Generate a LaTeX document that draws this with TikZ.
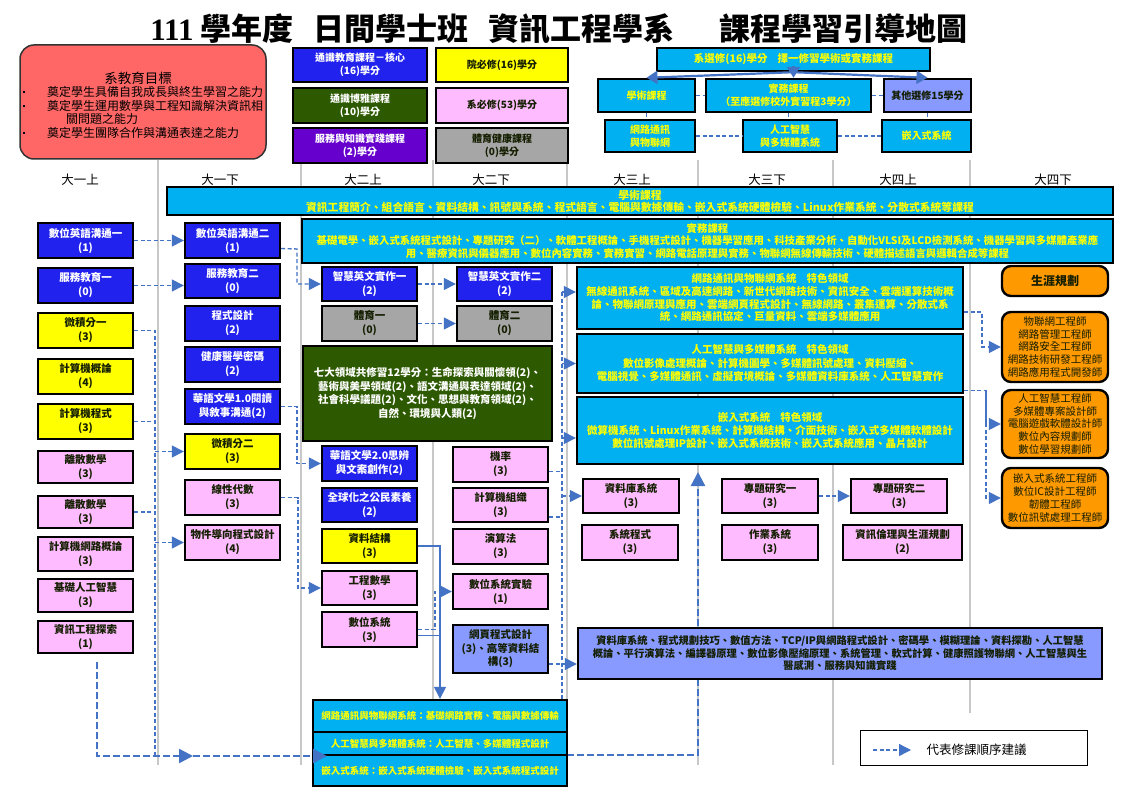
\documentclass[tikz,border=0pt]{standalone}
\usepackage{fontspec}
\setmainfont{Noto Sans CJK TC}
\newfontfamily\serifnum{Liberation Serif}
\usetikzlibrary{arrows.meta}
\definecolor{cblue}{RGB}{34,34,238}
\definecolor{cyel}{RGB}{255,255,0}
\definecolor{cpink}{RGB}{255,187,255}
\definecolor{cgray}{RGB}{166,166,166}
\definecolor{cgreen}{RGB}{45,90,0}
\definecolor{cpurp}{RGB}{102,0,204}
\definecolor{ccyan}{RGB}{0,176,240}
\definecolor{cperi}{RGB}{136,153,255}
\definecolor{cred}{RGB}{255,102,102}
\definecolor{corange}{RGB}{255,153,0}
\definecolor{carrow}{RGB}{68,114,196}
\definecolor{cline}{RGB}{200,200,200}
\definecolor{ctxt}{RGB}{20,30,0}
\newcommand\fsz[2]{\fontsize{#1}{#2}\selectfont}
\newcommand\bx[7]{\node[#6, minimum width={#4pt-#2pt}, minimum height={#5pt-#3pt}] (#1) at ({(#2+#4)/2},{(#3+#5)/2}) {#7};}
\tikzset{
  base/.style={draw=black, line width=2.4pt, align=center, inner sep=0pt, font=\fsz{10.5}{14}\bfseries},
  bluebox/.style={base, fill=cblue, text=white},
  yelbox/.style={base, fill=cyel, text=ctxt},
  pinkbox/.style={base, fill=cpink, text=ctxt},
  graybox/.style={base, fill=cgray, text=ctxt},
  greenbox/.style={base, fill=cgreen, text=white},
  purpbox/.style={base, fill=cpurp, text=white},
  cyanbox/.style={base, fill=ccyan, text=cyel},
  peribox/.style={base, fill=cperi, text=ctxt},
  orgbox/.style={base, fill=corange, text=ctxt, rounded corners=9pt},
  hdr/.style={font=\fsz{12.5}{14}, text=black},
  dashln/.style={draw=carrow, line width=1.4pt, dash pattern=on 4pt off 2.5pt},
  dasharr/.style={dashln, -{Triangle[length=12pt,width=12pt]}},
  thickdash/.style={draw=carrow, line width=2.4pt, dash pattern=on 7pt off 3pt},
  thickarr/.style={thickdash, -{Triangle[length=14pt,width=14pt]}},
  solidln/.style={draw=carrow, line width=1.3pt},
  solidarr/.style={solidln, -{Triangle[length=12pt,width=12pt]}},
  bigarr/.style={draw=carrow, line width=2.2pt, -{Triangle[length=11pt,width=13pt]}},
  colline/.style={draw=cline, line width=1.2pt},
}
\begin{document}
\begin{tikzpicture}[x=1pt,y=-1pt]
\useasboundingbox (0,0) rectangle (1123,794);
\fill[white] (0,0) rectangle (1123,794);

% title
\node[font=\fsz{31}{34}\bfseries] (title) at (559,29) {{\serifnum 111} 學年度\hspace{20pt}日間學士班\hspace{20pt}資訊工程學系\hspace{45pt}課程學習引導地圖};

% column lines
\foreach \x in {158,301,433,567,698,833} \draw[colline] (\x,160) -- (\x,765);
\draw[colline] (970,160) -- (970,713);

% headers
\node[hdr] (h1) at (80,180) {大一上};
\node[hdr] (h2) at (220,180) {大一下};
\node[hdr] (h3) at (363,180) {大二上};
\node[hdr] (h4) at (491,180) {大二下};
\node[hdr] (h5) at (632,180) {大三上};
\node[hdr] (h6) at (767,180) {大三下};
\node[hdr] (h7) at (898,180) {大四上};
\node[hdr] (h8) at (1053,180) {大四下};

% goals
\node[draw=black!80, line width=1.5pt, fill=cred, rounded corners=14pt, minimum width=246pt, minimum height=114pt, inner sep=0pt] (goal) at (143,102) {};
\node[font=\fsz{13.5}{15}] (goalt) at (138,78) {系教育目標};
\node[fill=black, inner sep=0pt, minimum size=2.5pt] (gb1) at (24,92) {};
\node[fill=black, inner sep=0pt, minimum size=2.5pt] (gb2) at (24,106) {};
\node[fill=black, inner sep=0pt, minimum size=2.5pt] (gb3) at (24,133) {};
\node[anchor=west, font=\fsz{12}{13}, inner sep=0pt] (g1) at (47,92) {奠定學生具備自我成長與終生學習之能力};
\node[anchor=west, font=\fsz{12}{13}, inner sep=0pt] (g2) at (47,106) {奠定學生運用數學與工程知識解決資訊相};
\node[anchor=west, font=\fsz{12}{13}, inner sep=0pt] (g2b) at (66,119) {關問題之能力};
\node[anchor=west, font=\fsz{12}{13}, inner sep=0pt] (g3) at (47,133) {奠定學生團隊合作與溝通表達之能力};

% legend boxes
\bx{lg1}{293}{48}{427}{82}{bluebox, font=\fsz{10}{13}\bfseries}{通識教育課程－核心\\(16)學分}
\bx{lg2}{293}{88}{427}{123}{greenbox, font=\fsz{10}{13}\bfseries}{通識博雅課程\\(10)學分}
\bx{lg3}{293}{128}{427}{163}{purpbox, font=\fsz{10}{13}\bfseries}{服務與知識實踐課程\\(2)學分}
\bx{lg4}{436}{48}{568}{82}{yelbox, font=\fsz{10}{13}\bfseries}{院必修(16)學分}
\bx{lg5}{436}{88}{568}{123}{pinkbox, font=\fsz{10}{13}\bfseries}{系必修(53)學分}
\bx{lg6}{436}{128}{568}{163}{graybox, font=\fsz{10}{13}\bfseries}{體育健康課程\\(0)學分}

% elective structure
\bx{sel}{657}{48}{930}{71}{cyanbox, font=\fsz{10.5}{13}\bfseries}{系選修(16)學分\hspace{10pt}擇一修習學術或實務課程}
\bx{aca}{598}{79}{695}{112}{cyanbox, font=\fsz{10}{13}\bfseries}{學術課程}
\bx{pra}{706}{79}{871}{112}{cyanbox, font=\fsz{10}{13}\bfseries}{實務課程\\（至應選修校外實習程3學分）}
\bx{oth}{884}{79}{971}{112}{peribox, font=\fsz{10}{13}\bfseries}{其他選修15學分}
\bx{trk1}{605}{120}{695}{152}{cyanbox, font=\fsz{10}{13}\bfseries}{網路通訊\\與物聯網}
\bx{trk2}{743}{120}{837}{152}{cyanbox, font=\fsz{10}{13}\bfseries}{人工智慧\\與多媒體系統}
\bx{trk3}{882}{120}{971}{152}{cyanbox, font=\fsz{10}{13}\bfseries}{嵌入式系統}
\draw[dashln] (aca.east) -- (pra.west);
\draw[dashln] (pra.east) -- (oth.west);
\draw[dashln] (trk1.east) -- (trk2.west);
\draw[dashln] (trk2.east) -- (trk3.west);
\draw[dashln] (aca.south) -- (aca.south |- trk1.north);
\draw[dashln] (pra.south) -- (pra.south |- trk2.north);
\draw[dashln] (oth.south) -- (oth.south |- trk3.north);
\coordinate (selc) at (793.5,66);
\draw[bigarr] (sel.south) -- (aca.north);
\draw[bigarr] (sel.south) -- (oth.north);
\draw[bigarr] (selc) -- (selc |- pra.north);

% long lines behind boxes
\coordinate (rA) at (567,755);
\coordinate (rB) at (698,755);
\coordinate (rT) at (698,472);
\draw[thickarr] (rA) -- (rB) -- (rT);

% big course boxes
\bx{acad}{167}{187}{1113}{215}{cyanbox, font=\fsz{10.8}{12}\bfseries}{學術課程\\資訊工程簡介、組合語言、資料結構、訊號與系統、程式語言、電腦與數據傳輸、嵌入式系統硬體檢驗、Linux作業系統、分散式系統等課程}
\bx{prac}{302}{219}{1113}{263}{cyanbox, font=\fsz{10.4}{12.5}\bfseries}{實務課程\\基礎電學、嵌入式系統程式設計、專題研究（二）、軟體工程概論、手機程式設計、機器學習應用、科技產業分析、自動化VLSI及LCD檢測系統、機器學習與多媒體產業應\\用、醫療資訊與儀器應用、數位內容實務、實務實習、網路電話原理與實務、物聯網無線傳輸技術、硬體描述語言與邏輯合成等課程}

% column 1
\bx{c1a}{38}{223}{133}{258}{bluebox}{數位英語溝通一\\(1)}
\bx{c1b}{38}{268}{133}{303}{bluebox}{服務教育一\\(0)}
\bx{c1c}{38}{313}{133}{348}{yelbox}{微積分一\\(3)}
\bx{c1d}{38}{359}{133}{394}{yelbox}{計算機概論\\(4)}
\bx{c1e}{38}{404}{133}{439}{yelbox}{計算機程式\\(3)}
\bx{c1f}{38}{451}{133}{483}{pinkbox}{離散數學\\(3)}
\bx{c1g}{38}{496}{133}{528}{pinkbox}{離散數學\\(3)}
\bx{c1h}{38}{537}{133}{571}{pinkbox}{計算機網路概論\\(3)}
\bx{c1i}{38}{579}{133}{612}{pinkbox}{基礎人工智慧\\(3)}
\bx{c1j}{38}{621}{133}{653}{pinkbox}{資訊工程探索\\(1)}

% column 2
\bx{c2a}{185}{223}{280}{258}{bluebox}{數位英語溝通二\\(1)}
\bx{c2b}{185}{264}{280}{298}{bluebox}{服務教育二\\(0)}
\bx{c2c}{185}{306}{280}{341}{bluebox}{程式設計\\(2)}
\bx{c2d}{185}{347}{280}{382}{bluebox}{健康醫學密碼\\(2)}
\bx{c2e}{185}{389}{280}{424}{bluebox}{華語文學1.0閱讀\\與敘事溝通(2)}
\bx{c2f}{185}{434}{280}{469}{yelbox}{微積分二\\(3)}
\bx{c2g}{185}{480}{280}{515}{pinkbox}{線性代數\\(3)}
\bx{c2h}{185}{525}{280}{560}{pinkbox}{物件導向程式設計\\(4)}

% column 3
\bx{c3a}{322}{267}{417}{301}{bluebox}{智慧英文實作一\\(2)}
\bx{c3b}{322}{306}{417}{341}{graybox}{體育一\\(0)}
\bx{gen}{303}{346}{552}{441}{greenbox, font=\fsz{10.5}{13.7}\bfseries}{七大領域共修習12學分：生命探索與關懷領(2)、\\藝術與美學領域(2)、語文溝通與表達領域(2)、\\社會科學議題(2)、文化、思想與教育領域(2)、\\自然、環境與人類(2)}
\bx{c3c}{322}{446}{417}{481}{bluebox}{華語文學2.0思辨\\與文案創作(2)}
\bx{c3d}{322}{488}{417}{522}{bluebox}{全球化之公民素養\\(2)}
\bx{c3e}{322}{529}{417}{563}{yelbox}{資料結構\\(3)}
\bx{c3f}{322}{571}{417}{605}{pinkbox}{工程數學\\(3)}
\bx{c3g}{322}{612}{417}{647}{pinkbox}{數位系統\\(3)}

% column 4
\bx{c4a}{457}{267}{552}{301}{bluebox}{智慧英文實作二\\(2)}
\bx{c4b}{457}{306}{552}{341}{graybox}{體育二\\(0)}
\bx{c4c}{453}{447}{548}{482}{pinkbox}{機率\\(3)}
\bx{c4d}{453}{488}{548}{522}{pinkbox}{計算機組織\\(3)}
\bx{c4e}{453}{529}{548}{564}{pinkbox}{演算法\\(3)}
\bx{c4f}{453}{574}{548}{609}{pinkbox}{數位系統實驗\\(1)}
\bx{c4g}{453}{625}{548}{673}{peribox, font=\fsz{10.5}{13.5}\bfseries}{網頁程式設計\\(3)、高等資料結\\構(3)}

% feature areas
\bx{f1}{577}{267}{963}{329}{cyanbox, font=\fsz{10.5}{12.7}\bfseries}{網路通訊與物聯網系統\hspace{10pt}特色領域\\無線通訊系統、區域及高速網路、新世代網路技術、資訊安全、雲端運算技術概\\論、物聯網原理與應用、雲端網頁程式設計、無線網路、叢集運算、分散式系\\統、網路通訊協定、巨量資料、雲端多媒體應用}
\bx{f2}{577}{334}{963}{393}{cyanbox, font=\fsz{10.5}{13.5}\bfseries}{人工智慧與多媒體系統\hspace{10pt}特色領域\\數位影像處理概論、計算機圖學、多媒體訊號處理、資料壓縮、\\電腦視覺、多媒體通訊、虛擬實境概論、多媒體資料庫系統、人工智慧實作}
\bx{f3}{577}{397}{963}{464}{cyanbox, font=\fsz{10.5}{13}\bfseries}{嵌入式系統\hspace{10pt}特色領域\\微算機系統、Linux作業系統、計算機結構、介面技術、嵌入式多媒體軟體設計\\數位訊號處理IP設計、嵌入式系統技術、嵌入式系統應用、晶片設計}

% columns 5-7
\bx{c5a}{583}{479}{679}{513}{pinkbox}{資料庫系統\\(3)}
\bx{c5b}{582}{525}{678}{560}{pinkbox}{系統程式\\(3)}
\bx{c6a}{722}{479}{818}{513}{pinkbox}{專題研究一\\(3)}
\bx{c6b}{722}{525}{818}{560}{pinkbox}{作業系統\\(3)}
\bx{c7a}{851}{479}{947}{513}{pinkbox}{專題研究二\\(3)}
\bx{c7b}{843}{525}{962}{560}{pinkbox}{資訊倫理與生涯規劃\\(2)}
\bx{elec}{578}{628}{1102}{679}{peribox, font=\fsz{10.3}{12.5}\bfseries}{資料庫系統、程式規劃技巧、數值方法、TCP/IP與網路程式設計、密碼學、模糊理論、資料探勘、人工智慧\\概論、平行演算法、編譯器原理、數位影像壓縮原理、系統管理、軟式計算、健康照護物聯網、人工智慧與生\\醫感測、服務與知識實踐}

% careers
\bx{car0}{1002}{266}{1108}{296}{orgbox, font=\fsz{12}{14}\bfseries}{生涯規劃}
\bx{carA}{1002}{312}{1108}{382}{orgbox, font=\fsz{10.5}{12.8}}{物聯網工程師\\網路管理工程師\\網路安全工程師\\網路技術研發工程師\\網路應用程式開發師}
\bx{carB}{1002}{390}{1108}{458}{orgbox, font=\fsz{10.5}{12.6}}{人工智慧工程師\\多媒體專案設計師\\電腦遊戲軟體設計師\\數位內容規劃師\\數位學習規劃師}
\bx{carC}{1002}{468}{1108}{528}{orgbox, font=\fsz{10.5}{13}}{嵌入式系統工程師\\數位IC設計工程師\\韌體工程師\\數位訊號處理工程師}

% bottom track boxes
\bx{bt1}{313}{700}{567}{732}{cyanbox, font=\fsz{9.5}{11}\bfseries}{網路通訊與物聯網系統：基礎網路實務、電腦與數據傳輸}
\bx{bt2}{313}{732}{567}{755}{cyanbox, font=\fsz{9.5}{11}\bfseries}{人工智慧與多媒體系統：人工智慧、多媒體程式設計}
\bx{bt3}{313}{755}{567}{786}{cyanbox, font=\fsz{9.5}{11}\bfseries}{嵌入式系統：嵌入式系統硬體檢驗、嵌入式系統程式設計}

% legend
\node[draw=black, line width=1pt, fill=white, minimum width=227pt, minimum height=35pt] (leg) at (973.5,747.5) {};
\coordinate (lgs) at (873,750);
\coordinate (lge) at (911,750);
\draw[dasharr] (lgs) -- (lge);
\node[anchor=west, font=\fsz{12.5}{14}] (legt) at (923,750) {代表修課順序建議};

% connectors column 1 -> 2
\draw[dasharr] (c1a.east) -- (c2a.west);
\draw[dasharr] (c1b.east) -- (c1b.east -| c2b.west);
\coordinate (vA) at (155,330.5);
\coordinate (vB) at (155,756);
\draw[dashln] (c1c.east) -- (vA) -- (vB);
\draw[dashln] (c1e.east) -- (c1e.east -| vA);
\draw[dashln] (c1g.east) -- (c1g.east -| vA);
\draw[dasharr] (vA |- c2f.west) -- (c2f.west);
\draw[dasharr] (vA |- c2h.west) -- (c2h.west);
\coordinate (jt) at (97,662);
\coordinate (vC) at (97,756);
\coordinate (vD) at (193,756);
\coordinate (vE) at (327,756);
\draw[thickarr] (jt) -- (vC) -- (vD);
\draw[thickarr] (vD) -- (vE);

% column 2 -> 3
\coordinate (p1) at ([yshift=-8pt]c2a.east);
\coordinate (k1) at (297,249);
\draw[dasharr] (p1) -- (k1) |- (c3a.west);
\coordinate (k2) at (297,406.5);
\draw[dasharr] (c2e.east) -- (k2) |- (c3c.west);
\coordinate (k3) at (298,497.5);
\draw[dasharr] (c2g.east) -- (k3) |- (c3f.west);

% column 3 -> 4
\draw[dasharr] (c3a.east) -- (c4a.west);
\draw[dasharr] (c3b.east) -- (c4b.west);
\coordinate (k4) at (435,629.5);
\draw[dasharr] (c3g.east) -- (k4) |- (c4f.west);
\coordinate (k5) at (440,546);
\draw[solidarr] (c3e.east) -- (k5) -- (k5 |- bt1.north);
\coordinate (p2) at ([yshift=-6pt]c3g.east);
\draw[solidln] (p2) -- (p2 -| k5);

% column 4 -> upper years
\coordinate (m1) at (562,292);
\coordinate (m2) at (562,700);
\draw[dashln] (m1) -- (m2);
\draw[dasharr] (m1) -- (m1 -| f1.west);
\draw[dasharr] (m1 |- f2.west) -- (f2.west);
\coordinate (m3) at (562,438);
\draw[dasharr] (m3) -- (m3 -| f3.west);
\draw[dasharr] (m1 |- c5a.west) -- (c5a.west);
\coordinate (m4) at (562,664);
\coordinate (p3) at ([yshift=-15pt]c4g.east);
\draw[dashln] (p3) -- (m4);
\draw[dasharr] (m4) -- (m4 -| elec.west);
\coordinate (p4) at ([yshift=-7pt]c4c.east);
\draw[dashln] (p4) -- (p4 -| m1);
\coordinate (p5) at ([yshift=-12pt]c4d.east);
\draw[dashln] (p5) -- (p5 -| m1);
\draw[dasharr] (c6a.east) -- (c7a.west);

% to careers
\coordinate (p6) at ([yshift=-14pt]f1.east);
\coordinate (q1) at (982,312);
\draw[dasharr] (p6) -- (q1) |- (carA.west);
\coordinate (p7) at ([yshift=-27pt]f2.east);
\coordinate (q2) at (986,390.5);
\draw[dasharr] (p7) -- (q2) |- (carB.west);
\draw[dasharr] (q2) |- (carC.west);
\end{tikzpicture}
\end{document}
